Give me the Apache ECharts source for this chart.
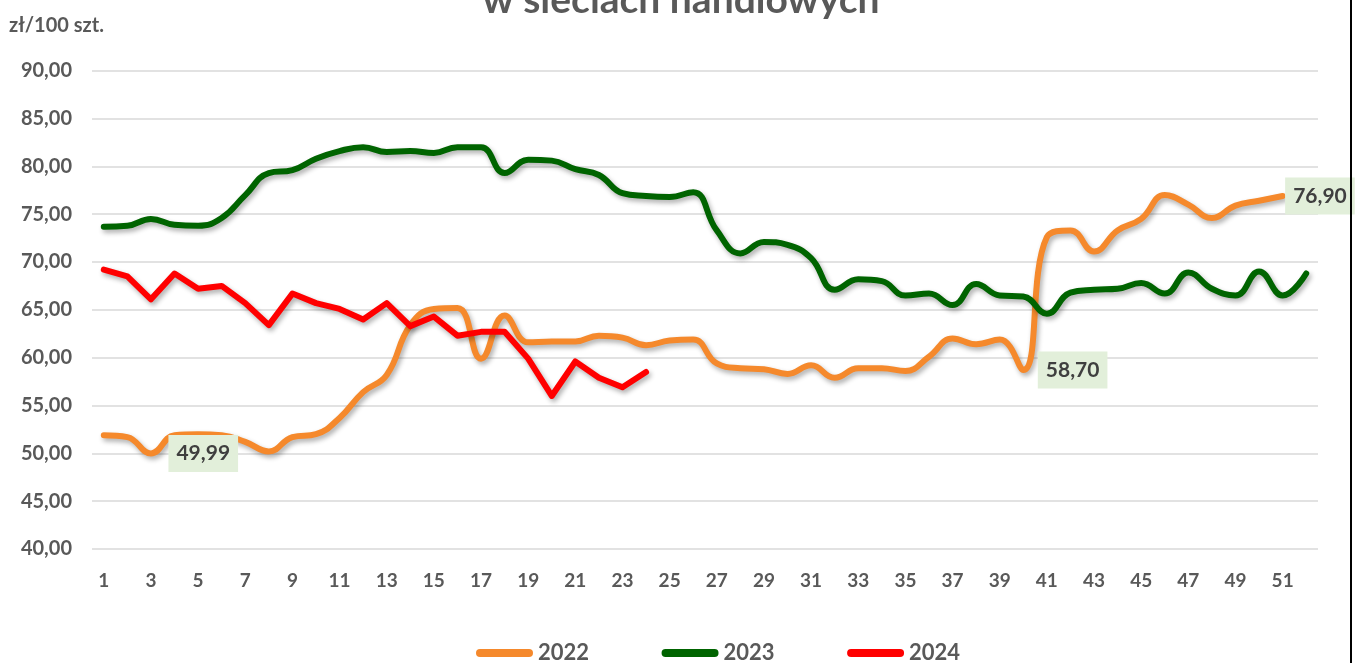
<!DOCTYPE html>
<html>
<head>
<meta charset="utf-8">
<script src="https://cdn.jsdelivr.net/npm/echarts@6/dist/echarts.min.js"></script>
<style>
html, body { margin: 0; padding: 0; background: #fff; }
#chart { width: 1362px; height: 663px; }
.frame { position: absolute; left: 1350px; top: 0; width: 2px; height: 663px; background: #000; }
</style>
</head>
<body>
<div id="chart"></div>
<div class="frame"></div>
<script>
const weeks = ['1','2','3','4','5','6','7','8','9','10','11','12','13','14','15','16','17','18','19','20',
  '21','22','23','24','25','26','27','28','29','30','31','32','33','34','35','36','37','38','39','40',
  '41','42','43','44','45','46','47','48','49','50','51','52']

const y2022 = [51.9, 51.7, 49.99, 51.9, 52.0, 51.9, 51.2, 50.2, 51.7, 52.0,
  53.7, 56.4, 58.2, 63.4, 65.1, 65.2, 59.9, 64.4, 61.6, 61.7,
  61.7, 62.3, 62.1, 61.3, 61.8, 61.9, 59.4, 58.9, 58.8, 58.3,
  59.2, 57.9, 58.9, 58.9, 58.6, 60.1, 62.0, 61.4, 61.9, 58.70,
  72.6, 73.3, 71.1, 73.3, 74.5, 77.0, 76.0, 74.6, 75.9, 76.4, 76.90]

const y2023 = [73.7, 73.8, 74.5, 73.9, 73.8, 74.6, 77.0, 79.3, 79.6, 80.8,
  81.6, 82.0, 81.5, 81.6, 81.4, 82.0, 82.0, 79.3, 80.7, 80.6,
  79.7, 79.1, 77.2, 76.9, 76.8, 77.3, 73.3, 70.9, 72.1, 71.8,
  70.4, 67.1, 68.2, 68.0, 66.5, 66.7, 65.5, 67.7, 66.5, 66.4,
  64.6, 66.8, 67.1, 67.2, 67.8, 66.7, 68.9, 67.2, 66.5, 69.0, 66.5, 68.8]

const y2024 = [69.2, 68.5, 66.1, 68.8, 67.2, 67.5, 65.7, 63.4, 66.7, 65.7,
  65.1, 64.0, 65.7, 63.3, 64.3, 62.3, 62.7, 62.7, 59.9, 56.0,
  59.6, 57.9, 56.9, 58.5]

// weeks of 2022 that carry a value label
const labelled2022 = [3, 40, 51]

const fmt = v => Number(v).toFixed(2).replace('.', ',')
const font = 'Lato'
const grey = '#595959'
const orange = '#F5892C'

const labelGap = { 3: 17, 40: 14, 51: 2 }
const data2022 = y2022.map((v, i) => {
  const w = i + 1
  if (!labelled2022.includes(w)) return v
  return { value: v, symbol: 'circle', symbolSize: 1, label: { show: true, distance: labelGap[w] } }
})

const lineShadow = { shadowColor: 'rgba(0,0,0,0.32)', shadowBlur: 5, shadowOffsetX: 2, shadowOffsetY: 3 }
const legendIcon = 'path://M4 0H53A4 4 0 0 1 53 8H4A4 4 0 0 1 4 0Z'

const chart = echarts.init(document.getElementById('chart'))
chart.setOption({
  animation: false,
  title: [
    { text: 'w sieciach handlowych', left: 'center', top: -24,
      textStyle: { fontFamily: font, fontSize: 39, fontWeight: 'bold', color: grey } },
    { text: 'zł/100 szt.', left: 4, top: 11,
      textStyle: { fontFamily: font, fontSize: 20, fontWeight: 'bold', color: grey } }
  ],
  legend: {
    left: 471, top: 637,
    itemWidth: 57, itemHeight: 8, itemGap: 72.5,
    icon: legendIcon,
    textStyle: { fontFamily: font, fontSize: 22, fontWeight: 'bold', color: grey },
    data: ['2022', '2023', '2024']
  },
  grid: { left: 92, right: 44, top: 70.7, bottom: 114, containLabel: false, outerBoundsMode: 'none' },
  xAxis: {
    type: 'category', data: weeks, boundaryGap: true,
    axisLine: { show: false }, axisTick: { show: false },
    axisLabel: { interval: 1, margin: 22, fontFamily: font, fontSize: 19, fontWeight: 'bold', color: grey }
  },
  yAxis: {
    type: 'value', min: 40, max: 90, interval: 5,
    axisLine: { show: false }, axisTick: { show: false },
    axisLabel: { margin: 20, formatter: fmt, fontFamily: font, fontSize: 20, fontWeight: 'bold', color: grey },
    splitLine: { lineStyle: { color: '#d9d9d9', width: 1.5 } }
  },
  series: [
    {
      name: '2022', type: 'line', data: data2022, smooth: 0.45, symbol: 'none',
      itemStyle: { color: orange },
      lineStyle: Object.assign({ color: orange, width: 6, cap: 'round', join: 'round' }, lineShadow),
      label: {
        show: false, position: 'right', formatter: p => fmt(p.value),
        backgroundColor: '#E2EFDA', padding: [9, 8, 7, 8],
        fontFamily: font, fontSize: 21, fontWeight: 'bold', color: '#3f3f3f'
      }
    },
    {
      name: '2023', type: 'line', data: y2023, smooth: 0.45, symbol: 'none',
      itemStyle: { color: '#006400' },
      lineStyle: Object.assign({ color: '#006400', width: 6, cap: 'round', join: 'round' }, lineShadow)
    },
    {
      name: '2024', type: 'line', data: y2024, smooth: false, symbol: 'none',
      itemStyle: { color: '#FF0000' },
      lineStyle: Object.assign({ color: '#FF0000', width: 6, cap: 'round', join: 'round' }, lineShadow)
    }
  ]
})
</script>
</body>
</html>
